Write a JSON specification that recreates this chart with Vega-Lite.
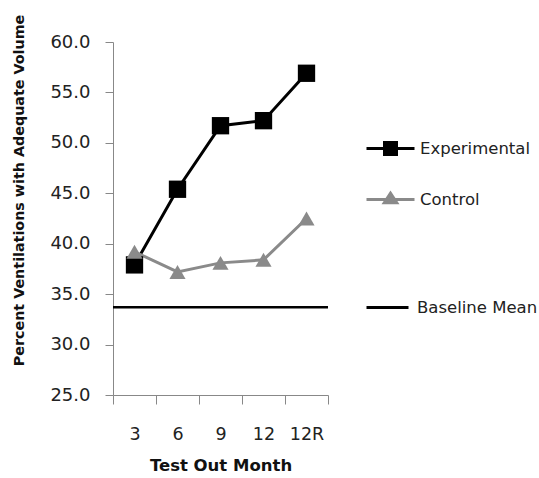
{
  "$schema": "https://vega.github.io/schema/vega-lite/v6.json",
  "autosize": {"type": "none"},
  "padding": {"left": 113, "top": 42, "right": 211, "bottom": 83},
  "width": 215,
  "height": 353,
  "background": "white",
  "config": {
    "view": {"stroke": null},
    "font": "DejaVu Sans",
    "axis": {"grid": false, "domainColor": "#888888", "tickColor": "#888888", "labelColor": "#222222", "titleColor": "#111111", "labelFont": "DejaVu Sans", "titleFont": "DejaVu Sans"},
    "legend": {"labelFont": "DejaVu Sans", "labelColor": "#222222", "padding": 0}
  },
  "layer": [
    {
      "data": {"values": [
        {"month": "3", "group": "Experimental", "value": 37.9},
        {"month": "6", "group": "Experimental", "value": 45.4},
        {"month": "9", "group": "Experimental", "value": 51.7},
        {"month": "12", "group": "Experimental", "value": 52.2},
        {"month": "12R", "group": "Experimental", "value": 56.9},
        {"month": "3", "group": "Control", "value": 39.2},
        {"month": "6", "group": "Control", "value": 37.2},
        {"month": "9", "group": "Control", "value": 38.1},
        {"month": "12", "group": "Control", "value": 38.4},
        {"month": "12R", "group": "Control", "value": 42.5}
      ]},
      "encoding": {
        "x": {
          "field": "month", "type": "nominal", "sort": ["3", "6", "9", "12", "12R"], "bandPosition": 0.5,
          "scale": {"type": "band", "paddingInner": 0, "paddingOuter": 0},
          "axis": {"title": "Test Out Month", "labelAngle": 0, "tickBand": "extent", "tickSize": 9, "labelPadding": 21, "labelFontSize": 17.5, "labelFontWeight": "normal", "titleFontSize": 16.5, "titleFontWeight": "bold", "titlePadding": 15}
        },
        "y": {
          "field": "value", "type": "quantitative",
          "scale": {"domain": [25, 60], "nice": false, "zero": false},
          "axis": {"title": "Percent Ventilations with Adequate Volume", "values": [25, 30, 35, 40, 45, 50, 55, 60], "format": ".1f", "tickSize": 8, "labelPadding": 15, "labelFontSize": 18, "titleFontSize": 14.3, "titleFontWeight": "bold", "titleX": -94, "titleY": 148, "titleBaseline": "middle", "titleAlign": "center", "titleAngle": -90}
        },
        "color": {
          "field": "group", "type": "nominal",
          "scale": {"domain": ["Experimental", "Control"], "range": ["#000000", "#8a8a8a"]},
          "legend": {
            "title": null, "orient": "none", "legendX": 252, "legendY": 81,
            "symbolSize": 2304, "rowPadding": 13, "labelOffset": 4, "labelFontSize": 16.5,
            "encode": {"symbols": {"update": {
              "shape": {"signal": "datum.value === 'Experimental' ? 'M-1,0H1M-0.25,-0.25H0.25V0.25H-0.25Z' : 'M-1,0H1M-0.26,0.14L0,-0.26L0.26,0.14Z'"},
              "fill": {"signal": "datum.value === 'Experimental' ? '#000000' : '#8a8a8a'"},
              "stroke": {"signal": "datum.value === 'Experimental' ? '#000000' : '#8a8a8a'"},
              "strokeWidth": {"value": 3},
              "size": {"value": 2304},
              "opacity": {"value": 1}
            }}}
          }
        }
      },
      "layer": [
        {
          "mark": {"type": "line", "strokeWidth": 3}
        },
        {
          "transform": [{"filter": "datum.group === 'Experimental'"}],
          "mark": {"type": "point", "filled": true, "opacity": 1, "shape": "square", "size": 300}
        },
        {
          "transform": [{"filter": "datum.group === 'Control'"}],
          "mark": {"type": "point", "filled": true, "opacity": 1, "shape": "triangle-up", "size": 260}
        }
      ]
    },
    {
      "data": {"values": [{"series": "Baseline Mean", "value": 33.7}]},
      "mark": {"type": "rule", "strokeWidth": 2.5, "color": "#000000"},
      "encoding": {
        "y": {"field": "value", "type": "quantitative"},
        "strokeDash": {
          "field": "series", "type": "nominal",
          "scale": {"range": [[1, 0]]},
          "legend": {"title": null, "orient": "none", "legendX": 252, "legendY": 243, "symbolSize": 1764, "symbolStrokeWidth": 3, "symbolStrokeColor": "#000000", "labelOffset": 7, "labelFontSize": 16.5}
        }
      }
    }
  ]
}
